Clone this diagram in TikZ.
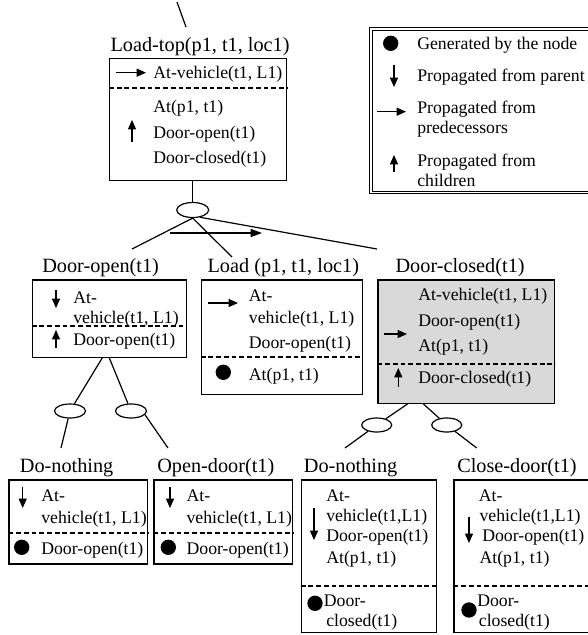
\documentclass[tikz,border=0pt]{standalone}
\usepackage{fontspec}
\setmainfont{Liberation Serif}
\usetikzlibrary{arrows.meta,shapes.geometric,calc}

\begin{document}
\begin{tikzpicture}[x=0.75pt,y=-0.75pt,line width=0.9pt,
  box/.style={draw,rectangle,anchor=north west,inner sep=0pt},
  title/.style={anchor=base west,inner sep=0pt,font=\fontsize{15.2}{18}\selectfont},
  txt/.style={anchor=base west,inner sep=0pt,font=\fontsize{13.3}{16}\selectfont},
  sep/.style={dash pattern=on 3.6pt off 2.2pt,line width=1.4pt},
  prop/.style={-{Triangle[length=7pt,width=6pt]}},
  order/.style={-{Triangle[length=8.5pt,width=6pt]}},
  gen/.style={circle,fill,inner sep=0pt,minimum size=11.5pt},
  andnode/.style={draw,ellipse,inner sep=0pt,minimum width=23.25pt,minimum height=10.5pt}]
  \useasboundingbox (0,0) rectangle (588,635);

  \coordinate (up0) at (177,2);
  \coordinate (up1) at (186,27);
  \draw (up0) -- (up1);

  \node[title] (ttop) at (110,51.5) {Load-top(p1, t1, loc1)};
  \node[box,minimum width=132.75pt,minimum height=91.5pt] (topbox) at (109,58) {};
  \draw[sep] (topbox.west |- 0,87.7) -- (topbox.east |- 0,87.7);
  \draw[prop] (116,72.7) -- (146,72.7);
  \node[txt] (tb1) at (152.7,79) {At-vehicle(t1, L1)};
  \node[txt] (tb2) at (152.7,112.5) {At(p1, t1)};
  \draw[prop] (132,142) -- (132,120);
  \node[txt] (tb3) at (152.7,138) {Door-open(t1)};
  \node[txt] (tb4) at (152.7,163.5) {Door-closed(t1)};

  \node[box,double,line width=0.75pt,double distance=1.3pt,minimum width=169.3pt,minimum height=122.8pt] (legend) at (370.3,28.3) {};
  \node[gen] (lg1) at (390.7,43.3) {};
  \node[txt] (lt1) at (416.7,49.3) {Generated by the node};
  \draw[prop] (394,65) -- (394,87);
  \node[txt] (lt2) at (416.7,81.7) {Propagated from parent};
  \draw[prop] (377,111.7) -- (406,111.7);
  \node[txt] (lt3) at (416.7,113.3) {Propagated from};
  \node[txt] (lt4) at (416.7,133.3) {predecessors};
  \draw[prop] (394,172) -- (394,155);
  \node[txt] (lt5) at (416.7,166.7) {Propagated from};
  \node[txt] (lt6) at (416.7,186.7) {children};

  \node[andnode,minimum width=24pt,minimum height=11.25pt] (etop) at (192.7,210) {};
  \draw (etop) -- (etop |- topbox.south);

  \node[title] (tdo) at (41.7,272) {Door-open(t1)};
  \node[title] (tld) at (207,272) {Load (p1, t1, loc1)};
  \node[title] (tdc) at (395,272) {Door-closed(t1)};
  \coordinate (indo) at (132,249);
  \coordinate (inld) at (232,257);
  \coordinate (indc) at (377,249);
  \draw (etop.south) -- (indo);
  \draw (etop.south) -- (inld);
  \draw (etop.-45) -- (indc);
  \coordinate (ord0) at (170,233);
  \coordinate (ord1) at (262,233);
  \draw[order] (ord0) -- (ord1);

  \node[box,minimum width=115.5pt,minimum height=58pt] (dobox) at (31.7,279.3) {};
  \draw[sep] (dobox.west |- 0,326) -- (dobox.east |- 0,326);
  \draw[prop] (56,290) -- (56,308);
  \node[txt] (do1) at (72.7,303.3) {At-};
  \node[txt] (do2) at (72.7,323.3) {vehicle(t1, L1)};
  \draw[prop] (56,348) -- (56,330);
  \node[txt] (do3) at (72.7,345) {Door-open(t1)};

  \node[box,minimum width=120.75pt,minimum height=86pt] (ldbox) at (200.7,279.3) {};
  \draw[sep] (ldbox.west |- 0,356.7) -- (ldbox.east |- 0,356.7);
  \draw[prop] (208,303) -- (238,303);
  \node[txt] (ld1) at (248.3,301.7) {At-};
  \node[txt] (ld2) at (248.3,323.3) {vehicle(t1, L1)};
  \node[txt] (ld3) at (248.3,348.3) {Door-open(t1)};
  \node[gen] (ldg) at (223.3,372.3) {};
  \node[txt] (ld4) at (248.3,380) {At(p1, t1)};

  \node[box,fill=gray!30,minimum width=132.5pt,minimum height=92.5pt] (dcbox) at (377.3,279.3) {};
  \draw[sep] (dcbox.west |- 0,364) -- (dcbox.east |- 0,364);
  \node[txt] (dc1) at (417.7,300.7) {At-vehicle(t1, L1)};
  \draw[prop] (384,334) -- (407,334);
  \node[txt] (dc2) at (417.7,326) {Door-open(t1)};
  \node[txt] (dc3) at (417.7,351.7) {At(p1, t1)};
  \draw[prop] (398.3,386.7) -- (398.3,368);
  \node[txt] (dc4) at (417.7,383.3) {Door-closed(t1)};

  \node[andnode] (edo1) at (70,411) {};
  \node[andnode] (edo2) at (131,411) {};
  \draw ($(dobox.south)+(-7,0)$) -- (edo1);
  \draw (dobox.south) -- (edo2);
  \node[andnode,minimum width=22.5pt] (edc1) at (376.7,425) {};
  \node[andnode,minimum width=22.5pt] (edc2) at (446.7,425) {};
  \draw ($(dcbox.south west)+(30.4,0)$) -- (edc1);
  \draw ($(dcbox.south west)+(46,0)$) -- (edc2);

  \node[title] (tn1) at (19.3,472) {Do-nothing};
  \node[title] (to1) at (156.7,472) {Open-door(t1)};
  \node[title] (tn2) at (303.3,472) {Do-nothing};
  \node[title] (tc1) at (456.7,472) {Close-door(t1)};
  \coordinate (inn1) at (61,448);
  \coordinate (ino1) at (168,448);
  \coordinate (inn2) at (345,448);
  \coordinate (inc1) at (476.7,448);
  \draw (edo1) -- (inn1);
  \draw (edo2.-15) -- (ino1);
  \draw (edc1) -- (inn2);
  \draw (edc2) -- (inc1);

  \node[box,minimum width=103.8pt,minimum height=63pt] (n1box) at (8.3,479.3) {};
  \draw[sep] (n1box.west |- 0,532.7) -- (n1box.east |- 0,532.7);
  \draw[prop] (22.7,486.7) -- (22.7,508);
  \node[txt] (n11) at (40.7,501.7) {At-};
  \node[txt] (n12) at (40.7,523.3) {vehicle(t1, L1)};
  \node[gen] (n1g) at (21.7,547.3) {};
  \node[txt] (n13) at (40.7,554) {Door-open(t1)};

  \node[box,minimum width=103.8pt,minimum height=63pt] (o1box) at (153.3,479.3) {};
  \draw[sep] (o1box.west |- 0,532.7) -- (o1box.east |- 0,532.7);
  \draw[prop] (170,486.7) -- (170,508);
  \node[txt] (o11) at (186,501.7) {At-};
  \node[txt] (o12) at (186,523.3) {vehicle(t1, L1)};
  \node[gen] (o1g) at (168.3,547.3) {};
  \node[txt] (o13) at (186,554) {Door-open(t1)};

  \node[box,minimum width=101.25pt,minimum height=114.3pt] (n2box) at (300.7,479.3) {};
  \draw[sep] (n2box.west |- 0,585.7) -- (n2box.east |- 0,585.7);
  \draw[prop] (314,508) -- (314,540);
  \node[txt] (n21) at (325.7,501.7) {At-};
  \node[txt] (n22) at (325.7,521.7) {vehicle(t1,L1)};
  \node[txt] (n23) at (325.7,541.7) {Door-open(t1)};
  \node[txt] (n24) at (325.7,563) {At(p1, t1)};
  \node[gen] (n2g) at (315,603.3) {};
  \node[txt] (n25) at (323.3,606.7) {Door-};
  \node[txt] (n26) at (325.7,626.7) {closed(t1)};

  \node[box,minimum width=108.75pt,minimum height=114.3pt] (c1box) at (453.3,479.3) {};
  \draw[sep] (c1box.west |- 0,585.7) -- (c1box.east |- 0,585.7);
  \draw[prop] (469,517) -- (469,543);
  \node[txt] (c11) at (478.3,501.7) {At-};
  \node[txt] (c12) at (479,521.7) {vehicle(t1,L1)};
  \node[txt] (c13) at (481.7,541.7) {Door-open(t1)};
  \node[txt] (c14) at (479,563) {At(p1, t1)};
  \node[gen] (c1g) at (469,610) {};
  \node[txt] (c15) at (476.7,606.7) {Door-};
  \node[txt] (c16) at (478.3,626.7) {closed(t1)};
\end{tikzpicture}
\end{document}
